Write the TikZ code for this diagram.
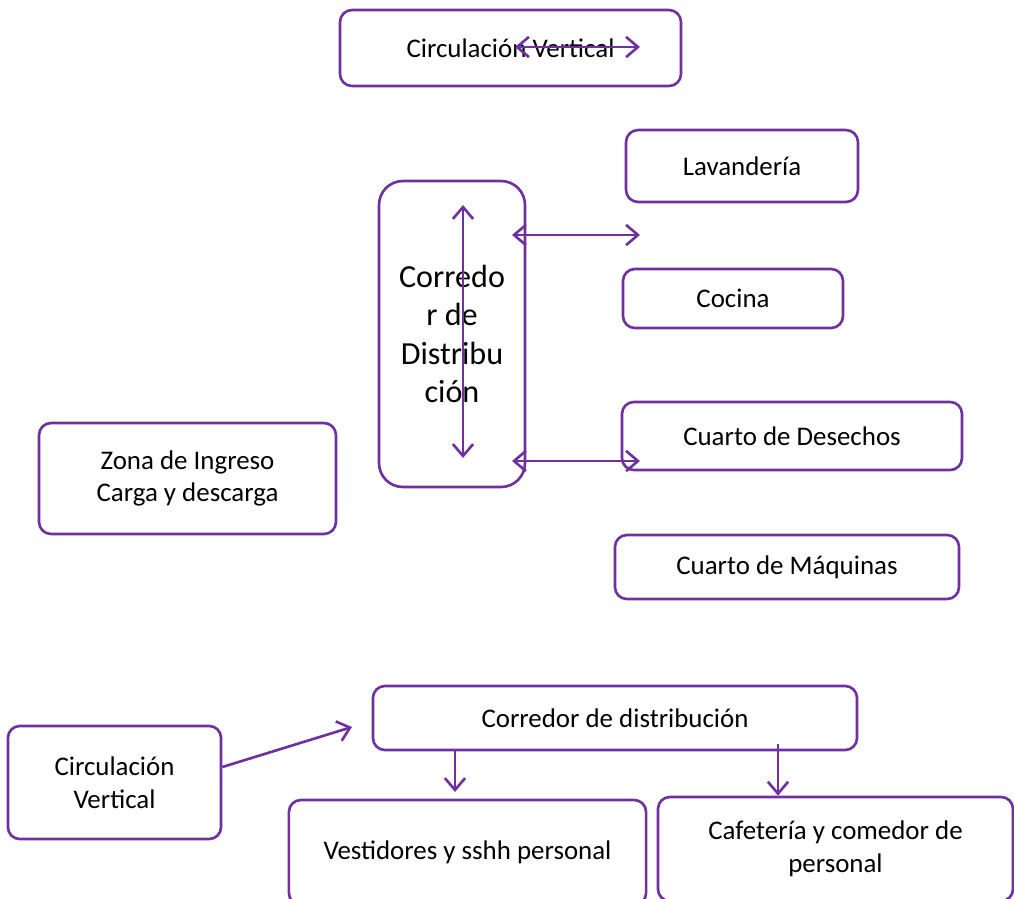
\documentclass[tikz,border=0pt]{standalone}
\usepackage{fontspec}
\setmainfont{Carlito}
\usetikzlibrary{arrows.meta}
\definecolor{morado}{HTML}{7030A0}

\begin{document}
\begin{tikzpicture}[x=0.42pt, y=-0.42pt]
\useasboundingbox (0,0) rectangle (1014,899);
\begin{scope}
	\clip (0,0) rectangle (1014,899);
	\tikzstyle{every node}=[align=center, font=\fontsize{11.3}{13.8}\selectfont]
	\tikzstyle{caja}=[draw=morado, line width=1.1pt, rounded corners=5pt, inner sep=0pt]
	\tikzstyle{flecha}=[draw=morado, line width=1.1pt, -{Straight Barb[length=5pt,width=8.5pt]}]
	\tikzstyle{doble}=[flecha, {Straight Barb[length=5pt,width=8.5pt]}-{Straight Barb[length=5pt,width=8.5pt]}]

	\node[caja, minimum width=143.2pt, minimum height=31.9pt] (cvs) at (510.5,48) {Circulación Vertical};
	\node[caja, minimum width=97.4pt, minimum height=30.2pt] (lav) at (742,166) {Lavandería};
	\node[caja, rounded corners=10pt, minimum width=61.3pt, minimum height=128.5pt,
		font=\fontsize{13.5}{16.2}\selectfont] (corr) at (452,334) {Corredo\\r de\\Distribu\\ción};
	\node[caja, minimum width=92.4pt, minimum height=24.8pt] (coc) at (733,298.5) {Cocina};
	\node[caja, minimum width=142.8pt, minimum height=28.6pt] (des) at (792,436) {Cuarto de Desechos};
	\node[caja, minimum width=124.7pt, minimum height=46.6pt] (zona) at (187.5,478.5) {Zona de Ingreso\\Carga y descarga};
	\node[caja, minimum width=144.5pt, minimum height=26.9pt] (maq) at (787,567) {Cuarto de Máquinas};

	\node[caja, minimum width=203.3pt, minimum height=26.9pt] (cdd) at (615,718) {Corredor de distribución};
	\node[caja, minimum width=89.5pt, minimum height=47.5pt] (cvi) at (114.5,782.5) {Circulación\\Vertical};
	\node[caja, minimum width=150pt, minimum height=44.1pt] (ves) at (467.5,852.5) {Vestidores y sshh personal};
	\node[caja, minimum width=149.1pt, minimum height=43.7pt] (caf) at (835.5,849) {Cafetería y comedor de\\personal};

	% free ends
	\coordinate (t1) at (515,47);
	\coordinate (t2) at (640,47);
	\coordinate (v1) at (463,205);
	\coordinate (v2) at (463,458);
	\coordinate (a1) at (512,235);
	\coordinate (a2) at (640,235);
	\coordinate (b1) at (512,461);
	\coordinate (b2) at (640,461);
	\coordinate (c1) at (221,767);
	\coordinate (c2) at (352,727);
	\coordinate (d1) at (455,792);
	\coordinate (e1) at (778,744);

	\draw [doble] (t1) -- (t2);
	\draw [doble] (v1) -- (v2);
	\draw [doble] (a1) -- (a2);
	\draw [doble] (b1) -- (b2);

	\draw [flecha] (cvi.east |- c1) -- (c2);
	\draw [flecha] (cdd.south -| d1) -- (d1);
	\draw [flecha] (e1) -- (caf.north -| e1);
\end{scope}
\end{tikzpicture}
\end{document}
